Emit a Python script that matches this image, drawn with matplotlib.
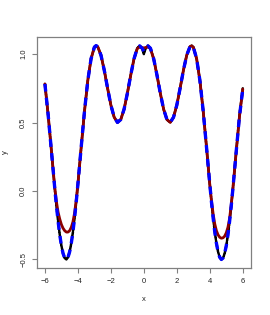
import matplotlib
matplotlib.use("Agg")
import matplotlib.pyplot as plt

plt.rcParams['font.family'] = ['Liberation Sans', 'DejaVu Sans']
plt.rcParams['lines.scale_dashes'] = False

x_vals = [-6.0, -5.8, -5.6, -5.4, -5.3, -5.2, -5.1, -5.0, -4.9, -4.8, -4.7, -4.6, -4.5,
          -4.4, -4.3, -4.2, -4.1, -4.0, -3.8, -3.6, -3.4, -3.2, -3.0, -2.9, -2.8, -2.6,
          -2.4, -2.2, -2.0, -1.8, -1.6, -1.4, -1.2, -1.0, -0.8, -0.6, -0.4, -0.25, -0.1,
          0.0,
          0.1, 0.25, 0.4, 0.6, 0.8, 1.0, 1.2, 1.4, 1.6, 1.8, 2.0, 2.2, 2.4, 2.6, 2.8,
          2.9, 3.0, 3.2, 3.4, 3.6, 3.8, 4.0, 4.1, 4.2, 4.3, 4.4, 4.5, 4.6, 4.7, 4.8,
          4.9, 5.0, 5.1, 5.2, 5.3, 5.4, 5.6, 5.8, 6.0]

y_points = [0.782, 0.552, 0.286, 0.016, -0.109, -0.222, -0.320, -0.399, -0.456, -0.490,
            -0.500, -0.484, -0.444, -0.381, -0.298, -0.195, -0.079, 0.049, 0.320, 0.583,
            0.807, 0.967, 1.051, 1.062, 1.055, 0.992, 0.882, 0.751, 0.628, 0.539, 0.501,
            0.522, 0.597, 0.713, 0.844, 0.964, 1.043, 1.062, 1.040,
            1.000,
            1.040, 1.062, 1.043, 0.964, 0.844, 0.713, 0.597, 0.522, 0.501, 0.539,
            0.628, 0.751, 0.882, 0.992, 1.055, 1.062, 1.051, 0.967, 0.807, 0.583,
            0.320, 0.049, -0.079, -0.195, -0.298, -0.381, -0.444, -0.484, -0.500, -0.490,
            -0.456, -0.399, -0.320, -0.222, -0.109, 0.016, 0.286, 0.552, 0.750]

y_red = [0.782, 0.552, 0.286, 0.020, -0.080, -0.155, -0.205, -0.245, -0.272, -0.290,
         -0.300, -0.300, -0.290, -0.265, -0.225, -0.160, -0.065, 0.050, 0.320, 0.583,
         0.807, 0.967, 1.051, 1.060, 1.055, 0.992, 0.882, 0.751, 0.628, 0.539, 0.501,
         0.522, 0.597, 0.713, 0.844, 0.964, 1.040, 1.052, 1.048,
         1.045,
         1.048, 1.052, 1.040, 0.964, 0.844, 0.713, 0.597, 0.522, 0.501, 0.539,
         0.628, 0.751, 0.882, 0.992, 1.055, 1.060, 1.051, 0.967, 0.807, 0.583,
         0.320, 0.045, -0.070, -0.165, -0.240, -0.290, -0.320, -0.338, -0.345, -0.342,
         -0.330, -0.305, -0.265, -0.200, -0.100, 0.020, 0.286, 0.545, 0.745]

y_blue = [0.782, 0.552, 0.286, 0.016, -0.109, -0.222, -0.320, -0.399, -0.456, -0.490,
          -0.500, -0.484, -0.444, -0.381, -0.298, -0.195, -0.079, 0.049, 0.320, 0.583,
          0.807, 0.967, 1.051, 1.062, 1.055, 0.992, 0.882, 0.751, 0.628, 0.539, 0.501,
          0.522, 0.597, 0.713, 0.844, 0.964, 1.043, 1.060, 1.042,
          1.020,
          1.042, 1.060, 1.043, 0.964, 0.844, 0.713, 0.597, 0.522, 0.501, 0.539,
          0.628, 0.751, 0.882, 0.992, 1.055, 1.062, 1.051, 0.967, 0.807, 0.583,
          0.320, 0.049, -0.079, -0.195, -0.298, -0.381, -0.444, -0.484, -0.500, -0.490,
          -0.456, -0.399, -0.320, -0.222, -0.109, 0.016, 0.286, 0.545, 0.745]

x_ticks = [-6, -4, -2, 0, 2, 4, 6]
y_ticks = [-0.5, 0.0, 0.5, 1.0]
y_tick_labels = ["\u22120.5", "0.0", "0.5", "1.0"]

fig = plt.figure(figsize=(2.7, 3.15), dpi=100)
ax = fig.add_axes([37/270, 1-268/315, (250.7-37)/270, (268-37)/315])

ax.plot(x_vals, y_points, color='black', lw=1.8, dashes=(0.9, 0.9),
        dash_capstyle='round', zorder=2)
ax.plot(x_vals, y_red, color='#8b0000', lw=2.0, solid_capstyle='round', zorder=3)
ax.plot(x_vals, y_blue, color='#0000ff', lw=2.4, dashes=(5.5, 4.5),
        dash_capstyle='butt', zorder=4)

ax.set_xlim(-6.48, 6.48)
ax.set_ylim(-0.5625, 1.125)
ax.set_xticks(x_ticks)
ax.set_xticklabels([str(t).replace('-', '\u2212') for t in x_ticks])
ax.set_yticks(y_ticks)
ax.set_yticklabels(y_tick_labels, rotation=90, va='center')

for s in ax.spines.values():
    s.set_color('#808080')
    s.set_linewidth(0.9)
ax.tick_params(axis='both', colors='#808080', labelcolor='#222222', length=3.6,
               width=0.8, labelsize=5.5, pad=3.5)

ax.set_xlabel('x', fontsize=5.5, color='#222222', labelpad=8)
ax.set_ylabel('y', fontsize=5.5, color='#222222', labelpad=8)

fig.savefig('out.png', dpi=100)
